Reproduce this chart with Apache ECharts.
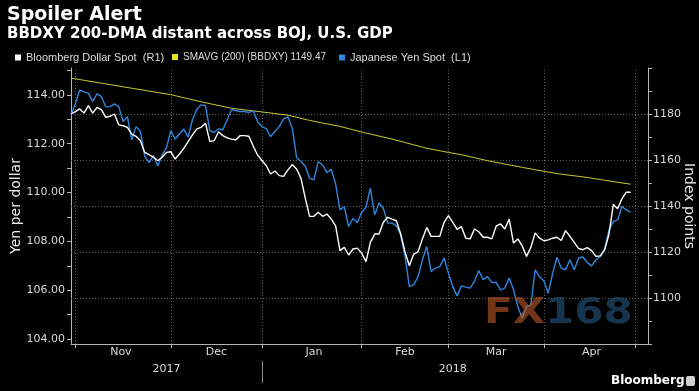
<!DOCTYPE html>
<html><head><meta charset="utf-8">
<script src="https://cdn.jsdelivr.net/npm/echarts@6.0.0/dist/echarts.min.js"></script>
<style>html,body{margin:0;padding:0;background:#000;}#c{width:699px;height:391px;}</style>
</head><body><div id="c"></div>
<script>
// Bloomberg Dollar Spot index (right axis), one value per weekday from Oct 31 2017
const usdIndex = [
1180.0,1181.0,1182.2,1180.4,1183.6,1180.4,1182.9,1181.9,1178.6,1179.0,
1180.0,1175.3,1174.9,1174.2,1171.3,1170.3,1168.4,1163.3,1162.3,1161.2,
1159.7,1161.2,1163.3,1163.6,1160.4,1162.6,1165.1,1168.0,1170.9,1173.5,
1174.2,1176.0,1168.0,1168.4,1172.3,1170.6,1169.6,1169.1,1168.8,1170.6,
1170.6,1170.3,1166.1,1162.2,1159.8,1157.6,1153.9,1155.2,1153.2,1152.9,
1155.7,1158.0,1156.1,1152.1,1143.4,1135.5,1135.5,1137.3,1135.5,1136.5,
1134.3,1131.4,1120.6,1122.0,1118.7,1121.3,1121.7,1119.5,1115.8,1124.2,
1127.8,1127.8,1132.9,1135.1,1134.3,1133.6,1127.8,1119.9,1114.0,1119.1,
1120.1,1125.7,1130.7,1126.8,1126.8,1126.8,1132.9,1135.8,1132.9,1129.8,
1131.0,1126.0,1125.7,1130.0,1128.8,1126.4,1126.4,1125.7,1131.2,1132.2,
1130.0,1134.3,1123.9,1125.7,1122.7,1118.1,1122.0,1128.3,1126.0,1124.9,
1125.3,1126.0,1126.4,1125.0,1129.3,1126.8,1124.2,1121.5,1121.0,1121.9,
1120.6,1118.1,1118.3,1121.0,1127.6,1140.7,1138.8,1143.2,1146.0,1146.0
];
// Japanese Yen spot (left axis)
const usdJpy = [
113.18,113.63,114.20,114.12,114.07,113.73,114.04,113.93,113.51,113.52,
113.63,113.52,112.91,113.11,112.16,112.70,112.50,111.47,111.23,111.52,
111.09,111.54,111.83,112.53,112.19,112.40,112.60,112.27,112.98,113.41,
113.59,113.56,112.54,112.46,112.61,112.57,112.98,113.39,113.36,113.32,
113.32,113.28,113.35,112.91,112.70,112.62,112.29,112.50,112.70,113.02,
113.10,112.64,111.44,111.27,111.08,110.59,110.52,111.27,111.13,110.82,
110.95,110.36,109.29,109.42,108.61,108.95,108.77,109.19,109.40,110.18,
109.09,109.57,109.36,108.75,108.75,108.64,108.27,107.38,106.15,106.22,
106.56,107.25,107.79,106.77,106.91,106.97,107.32,106.70,106.15,105.77,
106.18,106.13,106.09,106.36,106.81,106.43,106.56,106.32,106.32,106.02,
106.09,106.50,106.02,105.33,104.86,105.33,105.40,106.84,106.55,106.39,
105.88,106.67,107.35,106.91,106.84,107.25,106.84,107.32,107.36,107.14,
107.00,107.25,107.38,107.66,108.47,108.81,108.88,109.43,109.29,109.20
];
// 200-day moving average read at these weekday positions
const smaPos = [0,7,23,30,37,44,50,55,62,68,74,82,87,90,96,104,112,119,126,129];
const smaVal = [1195.6,1193.4,1188.4,1185.3,1182.5,1180.9,1179.5,1177.2,1174.6,1171.7,1169.1,1165.1,1163.3,1162.3,1159.7,1156.8,1154.1,1152.4,1150.3,1149.5];

const monthTicks = [1,23,44,67,87,109,130];
const monthLabelPos = [11.5,33.5,56,77,98,120];
const monthLabelNames = ['Nov','Dec','Jan','Feb','Mar','Apr'];
const yearLabelPos = [22,88];
const yearLabelNames = ['2017','2018'];
const yearBreaks = [44];
const yenTicks = [104,105,106,107,108,109,110,111,112,113,114,115];
const yenLabels = [104,106,108,110,112,114];
const idxTicks = [1080,1090,1100,1110,1120,1130,1140,1150,1160,1170,1180,1190,1200];
const idxLabels = [1100,1120,1140,1160,1180];
const idxGrid = [1100,1120,1140,1160,1180];

const names = ['Bloomberg Dollar Spot  (R1)','SMAVG (200) (BBDXY) 1149.47','Japanese Yen Spot  (L1)'];
const colors = ['#ffffff','#e6e61e','#2f86de'];

const FONT = 'DejaVu Sans';
const txt = '#d9d9d9';
const axc = '#b5b5b5';

const chart = echarts.init(document.getElementById('c'), null, {renderer:'canvas', width:699, height:391});
const legendLeft = [15, 172, 339];
const legendFont = [11, 10, 11];
chart.setOption({
  backgroundColor:'#000',
  animation:false,
  title:[
    {text:'Spoiler Alert', left:7, top:6, padding:0, textStyle:{color:'#fff', fontSize:19, fontWeight:'bold', fontFamily:FONT}},
    {text:'BBDXY 200-DMA distant across BOJ, U.S. GDP', left:7, top:27, padding:0, textStyle:{color:'#fff', fontSize:15, fontWeight:'bold', fontFamily:FONT}}
  ],
  legend: names.map((n,k)=>({
    data:[{name:n, icon:'rect', itemStyle:{color:colors[k]}}],
    left:legendLeft[k], top:52, padding:0, itemWidth:6, itemHeight:6, selectedMode:false,
    textStyle:{color:'#dcdcdc', fontSize:legendFont[k], fontFamily:'Liberation Sans'}
  })),
  grid:{left:71, right:51, top:68, bottom:47, containLabel:false, outerBoundsMode:'none'},
  xAxis:[
    {type:'value', min:0, max:133, position:'bottom',
     axisLine:{show:true, onZero:false, lineStyle:{color:axc, width:1}},
     axisTick:{show:true, customValues:monthTicks, length:4, lineStyle:{color:axc}},
     axisLabel:{customValues:monthLabelPos, formatter:v=>{const k=monthLabelPos.indexOf(v);return k>=0?monthLabelNames[k]:'';}, color:txt, fontSize:11, fontFamily:FONT, margin:3},
     splitLine:{show:false}},
    {type:'value', min:0, max:133, position:'bottom', offset:17,
     axisLine:{show:false, onZero:false},
     axisTick:{show:true, customValues:yearBreaks, length:22, lineStyle:{color:'#8a8a8a'}},
     axisLabel:{customValues:yearLabelPos, formatter:v=>{const k=yearLabelPos.indexOf(v);return k>=0?yearLabelNames[k]:'';}, color:txt, fontSize:11, fontFamily:FONT, margin:3},
     splitLine:{show:false}}
  ],
  yAxis:[
    {type:'value', position:'left', min:103.8, max:115.1,
     axisLine:{show:true, onZero:false, lineStyle:{color:axc}},
     axisTick:{show:true, customValues:yenTicks, length:4, lineStyle:{color:axc}},
     axisLabel:{customValues:yenLabels, formatter:v=>v.toFixed(2), color:txt, fontSize:11, fontFamily:FONT, margin:6},
     splitLine:{show:false},
     name:'Yen per dollar', nameLocation:'middle', nameGap:48, nameMoveOverlap:false,
     nameTextStyle:{color:'#eeeeee', fontSize:14, fontFamily:FONT}},
    {type:'value', position:'right', min:1080, max:1200,
     axisLine:{show:true, onZero:false, lineStyle:{color:axc}},
     axisTick:{show:true, customValues:idxTicks, length:4, lineStyle:{color:axc}},
     axisLabel:{customValues:idxLabels, formatter:v=>String(v), color:txt, fontSize:11, fontFamily:FONT, margin:5},
     splitLine:{show:false},
     name:'Index points', nameLocation:'middle', nameGap:34, nameRotate:-90, nameMoveOverlap:false,
     nameTextStyle:{color:'#eeeeee', fontSize:14, fontFamily:FONT}}
  ],
  series:[
    {type:'line', name:'_grid', data:[], yAxisIndex:1, z:1, silent:true,
     markLine:{silent:true, symbol:['none','none'], label:{show:false}, animation:false,
       lineStyle:{color:'#5e5e5e', type:[1,2], width:1}, emphasis:{disabled:true},
       data:[...idxGrid.map(v=>({yAxis:v})), ...monthTicks.map(v=>({xAxis:v}))]}},
    {type:'line', name:names[1], yAxisIndex:1, z:8, color:colors[1], showSymbol:false, symbol:'none',
     lineStyle:{color:'#c8c834', width:1}, data:smaPos.map((p,k)=>[p, smaVal[k]])},
    {type:'line', name:names[2], yAxisIndex:0, z:9, color:colors[2], showSymbol:false, symbol:'none',
     lineStyle:{color:colors[2], width:1.4}, data:usdJpy.map((v,i)=>[i,v])},
    {type:'line', name:names[0], yAxisIndex:1, z:10, color:colors[0], showSymbol:false, symbol:'none',
     lineStyle:{color:'#ffffff', width:1.4}, data:usdIndex.map((v,i)=>[i,v])}
  ],
  graphic:[
    {type:'text', x:484, y:314, scaleX:1.2, z:100, silent:true,
     style:{x:0, y:0, text:'FX', fill:'rgba(190,88,38,0.6)', font:'bold 35px "DejaVu Sans"', verticalAlign:'middle'}},
    {type:'text', x:545, y:314, scaleX:1.2, z:100, silent:true,
     style:{x:0, y:0, text:'168', fill:'rgba(38,86,130,0.6)', font:'bold 35px "DejaVu Sans"', verticalAlign:'middle'}},
    {type:'text', x:611, y:381, z:100, silent:true,
     style:{text:'Bloomberg', fill:'#ffffff', font:'bold 12px "DejaVu Sans"', verticalAlign:'middle'}},
    {type:'rect', x:686, y:376, z:100, silent:true, shape:{width:9, height:10, r:2}, style:{fill:'#d0d0d0'}}
  ]
});
</script></body></html>
